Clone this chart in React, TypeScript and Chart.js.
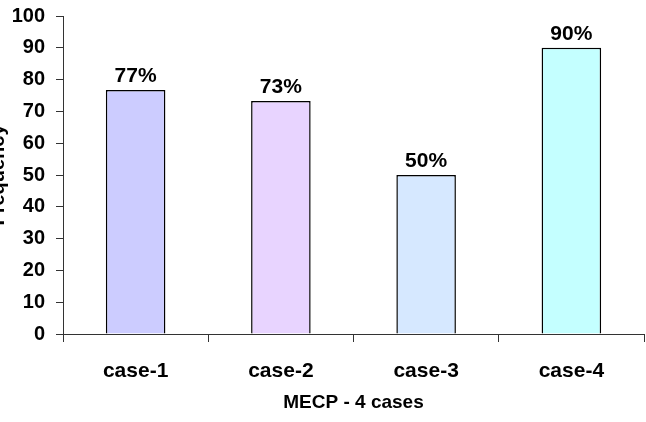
import React, { useEffect, useRef } from "react";
import { Chart, registerables } from "chart.js";

Chart.register(...registerables);

// Share of positive outcomes per MECP case (percent)
const categories = ["case-1", "case-2", "case-3", "case-4"];
const frequency = [76.7, 73.3, 50, 90];
const barColors = ["#CCCCFF", "#E8D4FF", "#D6E8FF", "#C4FFFF"];
const yTicks = [0, 10, 20, 30, 40, 50, 60, 70, 80, 90, 100];

const FONT = "'Liberation Sans', Arial, Helvetica, sans-serif";
const AXIS = "#333333";

// Writes the rounded percentage just above each bar
const valueLabels = {
  id: "valueLabels",
  afterDatasetsDraw(chart: any) {
    const { ctx } = chart;
    const meta = chart.getDatasetMeta(0);
    const values = chart.data.datasets[0].data as number[];
    ctx.save();
    ctx.font = `bold 21px ${FONT}`;
    ctx.fillStyle = "#000000";
    ctx.textAlign = "center";
    ctx.textBaseline = "alphabetic";
    meta.data.forEach((bar: any, i: number) => {
      ctx.fillText(`${Math.round(values[i])}%`, bar.x, bar.y - 8);
    });
    ctx.restore();
  },
};

export default function App() {
  const canvasRef = useRef<HTMLCanvasElement | null>(null);

  useEffect(() => {
    if (!canvasRef.current) return;
    const chart = new Chart(canvasRef.current, {
      type: "bar",
      data: {
        labels: categories,
        datasets: [
          {
            data: frequency,
            backgroundColor: barColors,
            borderColor: "#000000",
            borderWidth: 1.5,
            categoryPercentage: 1,
            barPercentage: 0.41,
          },
        ],
      },
      options: {
        animation: false,
        responsive: false,
        maintainAspectRatio: false,
        layout: { padding: { left: 0, right: 2, top: 6, bottom: 0 } },
        plugins: {
          legend: { display: false },
          tooltip: { enabled: false },
        },
        scales: {
          x: {
            grid: {
              offset: true,
              drawOnChartArea: false,
              drawTicks: true,
              tickLength: 8,
              color: AXIS,
            },
            border: { display: true, color: AXIS, width: 1 },
            ticks: {
              color: "#000000",
              font: { family: FONT, size: 21, weight: "bold" },
              padding: 17,
            },
            title: {
              display: true,
              text: "MECP - 4 cases",
              color: "#000000",
              font: { family: FONT, size: 19, weight: "bold" },
              padding: { top: 0, bottom: 8 },
            },
            afterFit: (scale: any) => {
              scale.height = 88;
            },
          },
          y: {
            min: 0,
            max: 100,
            afterBuildTicks: (scale: any) => {
              scale.ticks = yTicks.map((v) => ({ value: v }));
            },
            grid: {
              drawOnChartArea: false,
              drawTicks: true,
              tickLength: 7,
              color: AXIS,
            },
            border: { display: true, color: AXIS, width: 1 },
            ticks: {
              color: "#000000",
              font: { family: FONT, size: 20, weight: "bold" },
              padding: 11,
            },
            title: {
              display: true,
              text: "Frequency",
              color: "#000000",
              font: { family: FONT, size: 20, weight: "bold" },
              padding: { top: 0, bottom: 0 },
            },
            afterFit: (scale: any) => {
              scale.width = 77;
            },
          },
        },
      },
      plugins: [valueLabels],
    });
    return () => chart.destroy();
  }, []);

  return (
    <div
      style={{
        position: "fixed",
        left: -14,
        top: -7,
        width: 660,
        height: 429,
        background: "#ffffff",
      }}
    >
      <canvas ref={canvasRef} width={660} height={429} />
    </div>
  );
}
